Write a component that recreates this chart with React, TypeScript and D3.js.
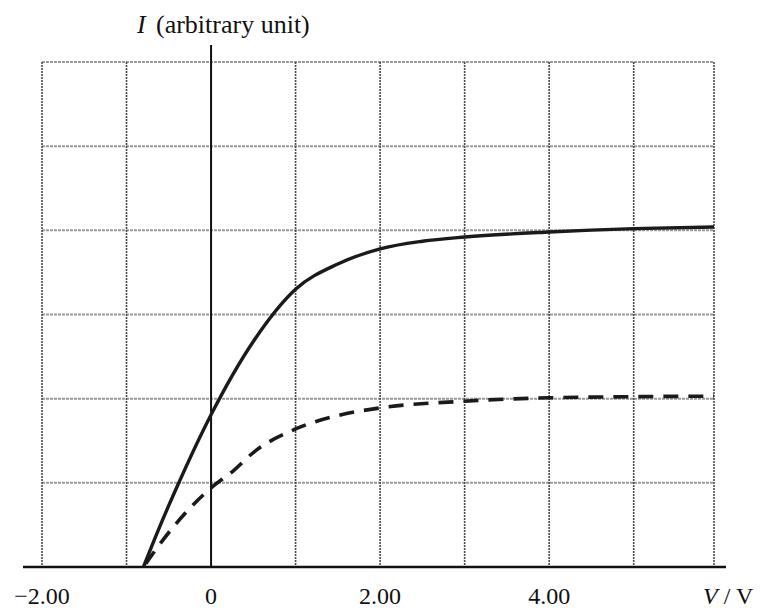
import React from "react";
import * as d3 from "d3";

const solidV = [-0.8, -0.64, -0.4, 0, 0.5, 1.0, 1.5, 2.0, 2.5, 3.0, 4.0, 5.0, 5.95];
const solidI = [0, 0.4, 0.96, 1.81, 2.68, 3.3, 3.6, 3.78, 3.87, 3.92, 3.98, 4.02, 4.04];

const dashedV = [-0.8, -0.57, 0, 0.26, 0.5, 1.0, 1.5, 2.0, 3.0, 4.0, 5.95];
const dashedI = [0, 0.32, 0.94, 1.14, 1.36, 1.64, 1.8, 1.89, 1.97, 2.01, 2.03];

const verticalGrid = [-2, -1, 1, 2, 3, 4, 5, 5.95];
const horizontalGrid = [1, 2, 3, 4, 5, 6];
const xTickValues = [-2, 0, 2, 4];
const xTickLabels = ["\u22122.00", "0", "2.00", "4.00"];

const W = 762;
const H = 608;

export default function App() {
  const x = d3.scaleLinear().domain([-2, 5.95]).range([42, 714]);
  const y = d3.scaleLinear().domain([0, 6]).range([567, 62]);

  const line = d3
    .line<[number, number]>()
    .x((d) => x(d[0]))
    .y((d) => y(d[1]))
    .curve(d3.curveMonotoneX);

  const solidPts: [number, number][] = solidV.map((v, i) => [v, solidI[i]]);
  const dashedPts: [number, number][] = dashedV.map((v, i) => [v, dashedI[i]]);

  const font = "'Liberation Serif', 'Times New Roman', serif";

  return (
    <svg
      width={W}
      height={H}
      style={{ position: "absolute", left: 0, top: 0, background: "#fff" }}
    >
      <rect x={0} y={0} width={W} height={H} fill="#fff" />
      {/* horizontal grid */}
      {horizontalGrid.map((g) => (
        <line
          key={"h" + g}
          x1={x(-2)}
          x2={x(5.95)}
          y1={y(g)}
          y2={y(g)}
          stroke="#9a9a9a"
          strokeWidth={2}
          strokeDasharray="3,1"
        />
      ))}
      {/* vertical grid */}
      {verticalGrid.map((g) => (
        <line
          key={"v" + g}
          x1={x(g)}
          x2={x(g)}
          y1={y(6)}
          y2={y(0)}
          stroke="#4a4a4a"
          strokeWidth={1.6}
          strokeDasharray="2,1"
        />
      ))}
      {/* y axis */}
      <line x1={x(0)} x2={x(0)} y1={45} y2={y(0)} stroke="#111" strokeWidth={2} />
      {/* x axis */}
      <line x1={23} x2={726} y1={y(0)} y2={y(0)} stroke="#111" strokeWidth={2.5} />
      {/* curves */}
      <path d={line(solidPts) || ""} fill="none" stroke="#1a1a1a" strokeWidth={3.4} />
      <path
        d={line(dashedPts) || ""}
        fill="none"
        stroke="#1a1a1a"
        strokeWidth={3.6}
        strokeDasharray="15,10"
        strokeDashoffset={-4}
      />
      {/* tick labels */}
      {xTickValues.map((v, i) => (
        <text
          key={"t" + v}
          x={x(v)}
          y={604}
          textAnchor="middle"
          fontFamily={font}
          fontSize={24}
          fill="#111"
        >
          {xTickLabels[i]}
        </text>
      ))}
      {/* axis titles */}
      <text x={137} y={33} fontFamily={font} fontSize={26} fontStyle="italic" fill="#111">
        I
      </text>
      <text x={156} y={33} fontFamily={font} fontSize={26} fill="#111">
        (arbitrary unit)
      </text>
      <text x={703} y={604} fontFamily={font} fontSize={24} fill="#111">
        <tspan fontStyle="italic">V</tspan>
        <tspan>{" / V"}</tspan>
      </text>
    </svg>
  );
}
